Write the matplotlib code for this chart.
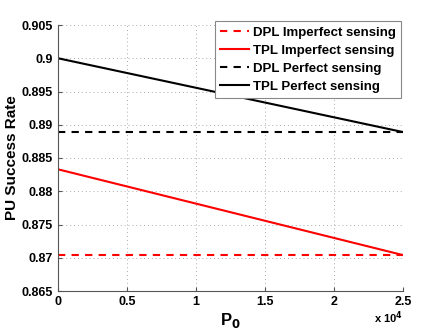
import numpy as np
import matplotlib
matplotlib.use('Agg')
import matplotlib.pyplot as plt

plt.rcParams['font.family'] = ['Liberation Sans', 'DejaVu Sans']
plt.rcParams['font.weight'] = 'bold'

# data
p0 = [0, 25000]
dpl_imperfect = [0.8704, 0.8704]
tpl_imperfect = [0.8833, 0.8704]
dpl_perfect = [0.8889, 0.8889]
tpl_perfect = [0.9000, 0.8889]
yticks = [0.865, 0.87, 0.875, 0.88, 0.885, 0.89, 0.895, 0.9, 0.905]
ytick_labels = ['0.865', '0.87', '0.875', '0.88', '0.885', '0.89', '0.895', '0.9', '0.905']
xticks = [0, 5000, 10000, 15000, 20000, 25000]
xtick_labels = ['0', '0.5', '1', '1.5', '2', '2.5']

fig = plt.figure(figsize=(4.43, 3.33), dpi=100)
ax = fig.add_axes([58/443, 1-291/333, (403-58)/443, (291-25)/333])

ax.plot(p0, dpl_imperfect, 'r--', lw=1.5, label='DPL Imperfect sensing', dashes=(3.5, 3))
ax.plot(p0, tpl_imperfect, 'r-', lw=1.5, label='TPL Imperfect sensing')
ax.plot(p0, dpl_perfect, 'k--', lw=1.5, label='DPL Perfect sensing', dashes=(3.5, 3))
ax.plot(p0, tpl_perfect, 'k-', lw=1.5, label='TPL Perfect sensing')

ax.set_xlim(0, 25000)
ax.set_ylim(0.865, 0.905)
ax.set_xticks(xticks)
ax.set_xticklabels(xtick_labels)
ax.set_yticks(yticks)
ax.set_yticklabels(ytick_labels)
ax.tick_params(labelsize=9, length=3, direction='in', color='#555555')
ax.grid(True, linestyle=(0, (1, 3)), color='#aaaaaa', lw=0.7)
for s in ['top', 'right']:
    ax.spines[s].set_visible(False)
for s in ['left', 'bottom']:
    ax.spines[s].set_color('#555555')

ax.set_xlabel('P$_\\mathbf{0}$', fontsize=12, fontweight='bold', labelpad=2)
ax.set_ylabel('PU Success Rate', fontsize=11, fontweight='bold', labelpad=2)
ax.text(1.0, -0.10, 'x 10$^\\mathbf{4}$', transform=ax.transAxes, ha='right', va='center', fontsize=8, fontweight='bold')

leg = ax.legend(loc='upper right', bbox_to_anchor=(0.995, 1.015), fontsize=9.5, fancybox=False,
                handlelength=2.2, borderaxespad=0, labelspacing=0.45, handletextpad=0.3, borderpad=0.4)
leg.get_frame().set_edgecolor('#888888')
leg.get_frame().set_linewidth(0.8)
leg.get_frame().set_alpha(1)

fig.savefig('out.png', dpi=100)
